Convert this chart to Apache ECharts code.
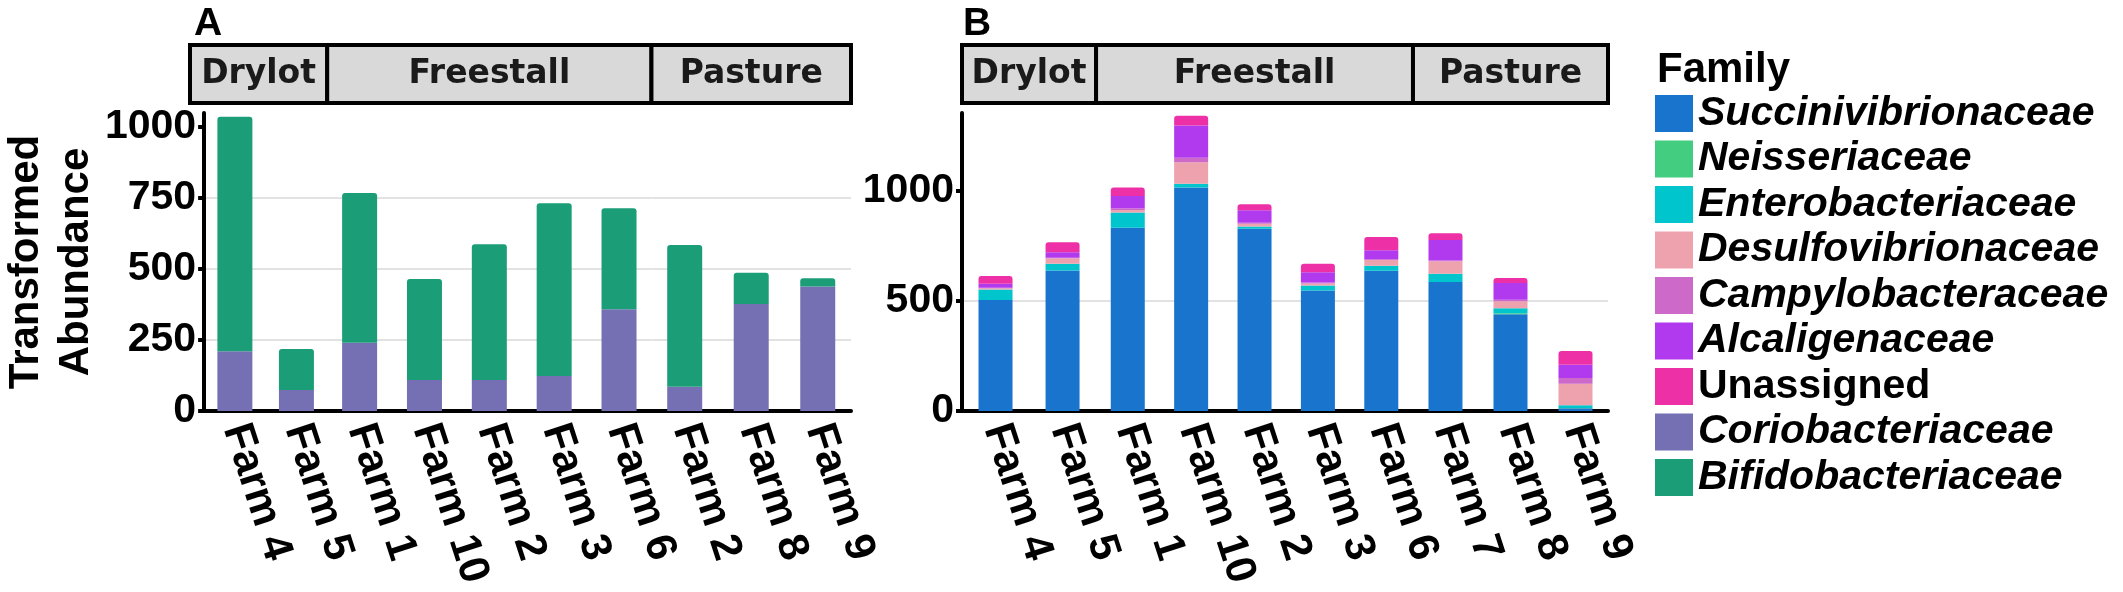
<!DOCTYPE html>
<html>
<head>
<meta charset="utf-8">
<script src="https://cdn.jsdelivr.net/npm/echarts@6/dist/echarts.min.js"></script>
<style>
  html, body { margin: 0; padding: 0; background: #fff; }
  #main { width: 2123px; height: 592px; }
</style>
</head>
<body>
<div id="main"></div>
<script>
// facets (housing) and the farms in each, left to right
const facets = ['Drylot', 'Freestall', 'Pasture'];
const farmsA = [['Farm 4', 'Farm 5'], ['Farm 1', 'Farm 10', 'Farm 2', 'Farm 3', 'Farm 6'], ['Farm 2', 'Farm 8', 'Farm 9']];
const farmsB = [['Farm 4', 'Farm 5'], ['Farm 1', 'Farm 10', 'Farm 2', 'Farm 3', 'Farm 6'], ['Farm 7', 'Farm 8', 'Farm 9']];

// panel A values, farm order as above (flattened)
const coriobacteriaceae  = [210, 74, 240, 109, 109, 123, 358, 85, 377, 438];
const bifidobacteriaceae = [826, 144, 527, 356, 478, 608, 356, 499, 110, 29];

// panel B values
const succinivibrionaceae = [503, 637, 830, 1012, 826, 546, 635, 584, 438, 12];
const neisseriaceae       = [0, 0, 0, 0, 0, 0, 0, 0, 5, 2];
const enterobacteriaceae  = [47, 30, 69, 18, 10, 22, 23, 38, 22, 12];
const desulfovibrionaceae = [6, 25, 12, 97, 12, 10, 26, 56, 32, 98];
const campylobacteraceae  = [2, 2, 8, 20, 5, 4, 4, 4, 7, 25];
const alcaligenaceae      = [18, 25, 55, 146, 57, 47, 40, 93, 76, 60];
const unassigned          = [36, 45, 38, 45, 27, 38, 60, 30, 22, 63];

const ticksA = [0, 250, 500, 750, 1000];
const ticksB = [0, 500, 1000];

const colors = {
  'Succinivibrionaceae': '#1874CD',
  'Neisseriaceae': '#43CD80',
  'Enterobacteriaceae': '#00C5CD',
  'Desulfovibrionaceae': '#EEA2AD',
  'Campylobacteraceae': '#CD69C9',
  'Alcaligenaceae': '#B23AEE',
  'Unassigned': '#EE30A7',
  'Coriobacteriaceae': '#7570B3',
  'Bifidobacteriaceae': '#1B9E77'
};

const SANS = 'Liberation Sans';
const NARROW = '"Liberation Sans Narrow", "Liberation Sans"';
const WIDE = 'DejaVu Sans';
const seriesA = [['Coriobacteriaceae', coriobacteriaceae], ['Bifidobacteriaceae', bifidobacteriaceae]];
const seriesB = [
  ['Succinivibrionaceae', succinivibrionaceae], ['Neisseriaceae', neisseriaceae],
  ['Enterobacteriaceae', enterobacteriaceae], ['Desulfovibrionaceae', desulfovibrionaceae],
  ['Campylobacteraceae', campylobacteraceae], ['Alcaligenaceae', alcaligenaceae],
  ['Unassigned', unassigned]
];
const legendNames = ['Succinivibrionaceae', 'Neisseriaceae', 'Enterobacteriaceae', 'Desulfovibrionaceae',
  'Campylobacteraceae', 'Alcaligenaceae', 'Unassigned', 'Coriobacteriaceae', 'Bifidobacteriaceae'];

// layout of the two panels
const panels = [
  { left: 190, right: 851, farms: farmsA, series: seriesA, max: 1049, interval: 250, ticks: ticksA, barWidth: 35 },
  { left: 962, right: 1608, farms: farmsB, series: seriesB, max: 1350, interval: 500, ticks: ticksB, barWidth: 34 }
];
const gridTop = 113, gridBottom = 181, stripTop = 45, stripH = 58;

const grids = [], xAxes = [], yAxes = [], series = [], graphics = [];
let gi = 0;
panels.forEach((p, pi) => {
  const units = p.farms.map(f => f.length + 0.2);
  const total = units.reduce((a, b) => a + b, 0);
  const unitPx = (p.right - p.left) / total;
  let x = p.left, offset = 0;
  p.farms.forEach((farms, fi) => {
    const w = units[fi] * unitPx;
    grids.push({ left: x, width: w, top: gridTop, bottom: gridBottom });
    xAxes.push({
      type: 'category', gridIndex: gi, data: farms,
      axisLine: { lineStyle: { color: '#000', width: 4 } },
      axisTick: { alignWithLabel: true, length: 10, lineStyle: { color: '#000', width: 4 } },
      axisLabel: { rotate: -72, margin: 14, color: '#000', fontFamily: SANS, fontWeight: 'bold', fontSize: 43 }
    });
    const first = fi === 0;
    yAxes.push({
      type: 'value', gridIndex: gi, min: 0, max: p.max, interval: p.interval,
      name: (pi === 0 && first) ? 'Transformed\nAbundance' : '',
      nameLocation: 'middle', nameRotate: 90, nameGap: 100,
      nameTextStyle: { color: '#000', fontFamily: SANS, fontWeight: 'bold', fontSize: 42, lineHeight: 50 },
      axisLine: { show: first, lineStyle: { color: '#000', width: 4 } },
      axisTick: { show: first, length: 6, customValues: p.ticks, lineStyle: { color: '#000', width: 4 } },
      axisLabel: { show: first, customValues: p.ticks, margin: 8, color: '#000', fontFamily: NARROW,
        fontWeight: 'bold', fontSize: 41, formatter: v => String(v) },
      splitLine: { show: true, showMaxLine: false, lineStyle: { color: '#e2e2e2', width: 2 } }
    });
    p.series.forEach(([name, values], si) => {
      series.push({
        type: 'bar', name, stack: 'p' + gi, xAxisIndex: gi, yAxisIndex: gi,
        barWidth: p.barWidth,
        itemStyle: { color: colors[name], borderRadius: si === p.series.length - 1 ? [3, 3, 0, 0] : 0 },
        data: values.slice(offset, offset + farms.length)
      });
    });
    // facet strip
    graphics.push({
      type: 'rect', shape: { x: x, y: stripTop, width: w, height: stripH },
      style: { fill: '#d9d9d9', stroke: '#000', lineWidth: 4 }
    });
    graphics.push({
      type: 'text', x: x + w / 2, y: stripTop + stripH / 2,
      style: { text: facets[fi], align: 'center', verticalAlign: 'middle', fill: '#1a1a1a',
        font: 'bold 33px "' + WIDE + '"' }
    });
    x += w; offset += farms.length; gi++;
  });
});

const chart = echarts.init(document.getElementById('main'));
chart.setOption({
  animation: false,
  backgroundColor: '#fff',
  title: [
    { text: 'A', left: 189, top: 0, textStyle: { fontFamily: SANS, fontWeight: 'bold', fontSize: 39, color: '#000' } },
    { text: 'B', left: 958, top: 0, textStyle: { fontFamily: SANS, fontWeight: 'bold', fontSize: 39, color: '#000' } },
    { text: 'Family', left: 1652, top: 44, textStyle: { fontFamily: SANS, fontWeight: 'bold', fontSize: 42, color: '#000' } }
  ],
  legend: {
    orient: 'vertical', left: 1650, top: 88,
    icon: 'rect', itemWidth: 38, itemHeight: 37, itemGap: 4.5,
    selectedMode: false,
    data: legendNames.map(n => ({ name: n, textStyle: { fontStyle: n === 'Unassigned' ? 'normal' : 'italic' } })),
    textStyle: { fontFamily: SANS, fontWeight: 'bold', fontSize: 41, lineHeight: 37, color: '#000' }
  },
  grid: grids,
  xAxis: xAxes,
  yAxis: yAxes,
  series: series,
  graphic: graphics
});
</script>
</body>
</html>
